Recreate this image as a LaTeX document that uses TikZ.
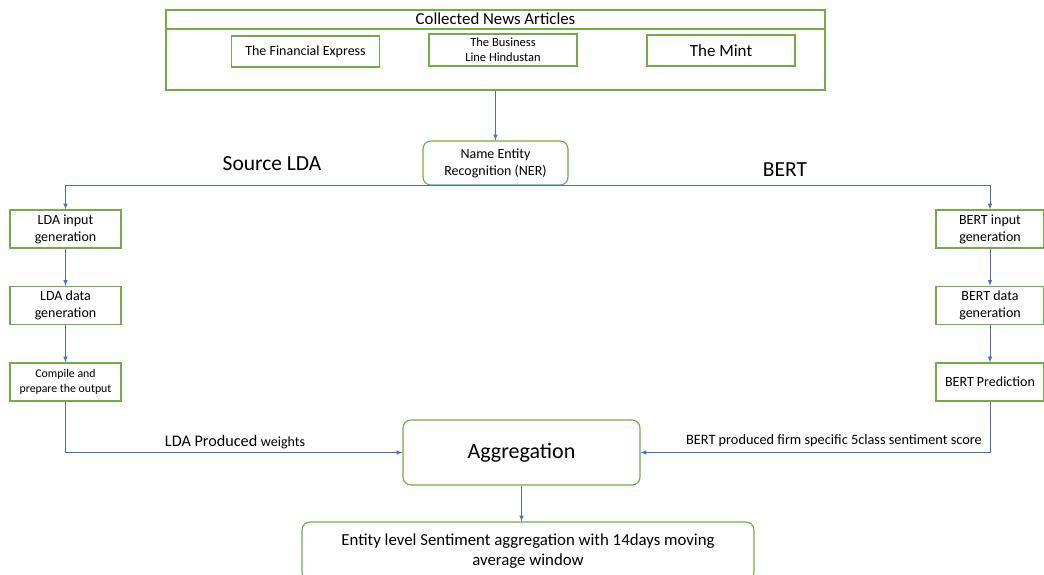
\documentclass[tikz,border=0pt]{standalone}
\usepackage{fontspec}
\setmainfont{Carlito}
\usetikzlibrary{positioning}
\definecolor{boxgreen}{RGB}{112,173,71}
\definecolor{arrblue}{RGB}{68,114,196}

\begin{document}
\begin{tikzpicture}[x=1pt,y=-1pt]
    \tikzstyle{box}=[draw=boxgreen,line width=1.1pt,rectangle,align=center,inner sep=1pt]
    \tikzstyle{stepbox}=[box,minimum width=111pt,minimum height=38pt,font=\fontsize{14}{17}\selectfont]
    \tikzstyle{srcbox}=[box,minimum width=148pt,minimum height=31pt]
    \tikzstyle{roundbox}=[box,rounded corners=8pt]
    \tikzstyle{arr}=[draw=arrblue,line width=1pt,-latex]
    \tikzstyle{lbl}=[inner sep=0pt,anchor=base]
    \useasboundingbox (0,0) rectangle (1044,575);
    % collected articles
    \node[box,minimum width=659pt,minimum height=80pt] (news) at (495.5,50) {};
    \draw[boxgreen,line width=1.1pt] (166,29) -- (825,29);
    \node[lbl,font=\fontsize{16.8}{19}\selectfont] (newstitle) at (495.5,25) {Collected News Articles};
    \node[srcbox,font=\fontsize{14}{17}\selectfont] (fe) at (305.5,51.5) {The Financial Express};
    \node[srcbox,minimum height=32pt,font=\fontsize{12.5}{15}\selectfont] (bl) at (503,50) {The Business\\Line Hindustan};
    \node[srcbox,font=\fontsize{17}{20}\selectfont] (mint) at (721,50.5) {The Mint};
    % NER
    \node[roundbox,minimum width=145pt,minimum height=44pt,font=\fontsize{14}{17}\selectfont] (ner) at (495.5,163) {Name Entity\\Recognition (NER)};
    \node[lbl,font=\fontsize{21.5}{25}\selectfont] (srclda) at (272,171) {Source LDA};
    \node[lbl,font=\fontsize{21.5}{25}\selectfont] (bertlbl) at (785,176) {BERT};
    % LDA side
    \node[stepbox] (ldain) at (65.5,229) {LDA input\\generation};
    \node[stepbox] (ldadata) at (65.5,305.5) {LDA data\\generation};
    \node[stepbox,font=\fontsize{11.8}{15}\selectfont] (compile) at (65.5,382) {Compile and\\prepare the output};
    % BERT side
    \node[stepbox,minimum width=108pt] (bertin) at (990,229) {BERT input\\generation};
    \node[stepbox,minimum width=108pt] (bertdata) at (990,305.5) {BERT data\\generation};
    \node[stepbox,minimum width=108pt] (bertpred) at (990,382) {BERT Prediction};
    % aggregation
    \node[roundbox,minimum width=237pt,minimum height=65pt,font=\fontsize{22}{26}\selectfont] (agg) at (521.5,452.5) {Aggregation};
    \node[roundbox,minimum width=452pt,minimum height=58pt,font=\fontsize{16.8}{20}\selectfont] (final) at (528,551) {Entity level Sentiment aggregation with 14days moving\\average window};
    % connectors
    \draw[arr] (news.south) -- (ner.north);
    \draw[arr] (ner.south) -| (ldain.north);
    \draw[arr] (ner.south) -| (bertin.north);
    \draw[arr] (ldain) -- (ldadata);
    \draw[arr] (ldadata) -- (compile);
    \draw[arr] (bertin) -- (bertdata);
    \draw[arr] (bertdata) -- (bertpred);
    \draw[arr] (compile.south) |- (agg.west);
    \draw[arr] (bertpred.south) |- (agg.east);
    \draw[arr] (agg.south) -- (agg.south |- final.north);
    \node[lbl,font=\fontsize{16.2}{18}\selectfont] (ldaw) at (235,446) {LDA Produced {\fontsize{14}{16}\selectfont weights}};
    \node[lbl,font=\fontsize{14.3}{16}\selectfont] (bertw) at (834,444) {BERT produced firm specific 5class sentiment score};
\end{tikzpicture}
\end{document}
